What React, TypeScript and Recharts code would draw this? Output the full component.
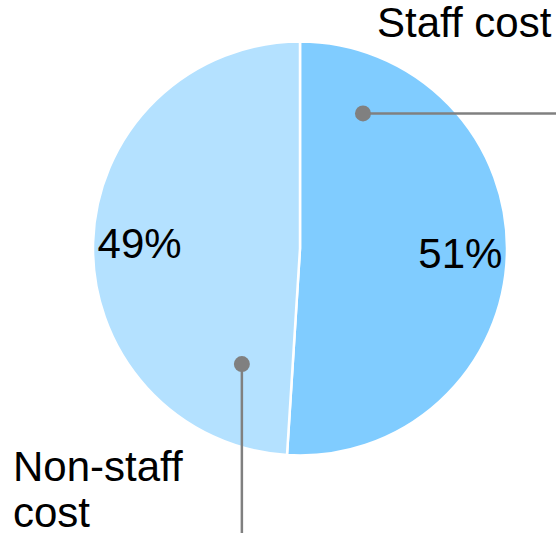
import React from 'react';
import { PieChart, Pie, Cell } from 'recharts';

const categories = ['Staff cost', 'Non-staff cost'];
const shares = [51, 49];
const COLORS = ['#80CCFF', '#B4E1FF'];

const data = categories.map((name, i) => ({ name, value: shares[i] }));

const RAD = Math.PI / 180;
const FONT = "Arial, 'Liberation Sans', sans-serif";

// callout dots: polar position inside the pie, then a leader line to the chart edge
const CALLOUTS = [
  { angle: 65, frac: 0.72, dir: 'right', lines: ['Staff cost'], tx: 377, ty: 37 },
  { angle: 243.3, frac: 0.625, dir: 'down', lines: ['Non-staff', 'cost'], tx: 13, ty: 481 },
];

const W = 556;
const H = 533;

const renderLabel = (props: any) => {
  const { cx, cy, midAngle, outerRadius, value, index } = props;
  const r = outerRadius * 0.775;
  const x = cx + r * Math.cos(-midAngle * RAD);
  const y = cy + r * Math.sin(-midAngle * RAD);
  const c = CALLOUTS[index];
  const dx = cx + outerRadius * c.frac * Math.cos(c.angle * RAD);
  const dy = cy - outerRadius * c.frac * Math.sin(c.angle * RAD);
  return (
    <g>
      <text x={x} y={y} textAnchor="middle" dominantBaseline="central" fill="#000" fontSize={42} fontFamily={FONT}>
        {`${value}%`}
      </text>
      {c.dir === 'right' ? (
        <line x1={dx} y1={dy} x2={W} y2={dy} stroke="#808080" strokeWidth={2.5} />
      ) : (
        <line x1={dx} y1={dy} x2={dx} y2={H} stroke="#808080" strokeWidth={2.5} />
      )}
      <circle cx={dx} cy={dy} r={8} fill="#808080" />
      <text x={c.tx} y={c.ty} fill="#000" fontSize={42} fontFamily={FONT}>
        {c.lines.map((l, i) => (
          <tspan key={l} x={c.tx} dy={i === 0 ? 0 : 46}>{l}</tspan>
        ))}
      </text>
    </g>
  );
};

const App: React.FC = () => {
  return (
    <div style={{ position: 'absolute', left: 0, top: 0, background: '#fff' }}>
      <PieChart width={W} height={H} margin={{ top: 0, right: 0, bottom: 0, left: 0 }}>
        <Pie
          data={data}
          dataKey="value"
          cx={300}
          cy={248.5}
          outerRadius={207}
          startAngle={90}
          endAngle={-270}
          stroke="#fff"
          strokeWidth={2.5}
          label={renderLabel}
          labelLine={false}
          isAnimationActive={false}
        >
          {data.map((entry, index) => (
            <Cell key={`cell-${index}`} fill={COLORS[index % COLORS.length]} />
          ))}
        </Pie>
      </PieChart>
    </div>
  );
};

export default App;
